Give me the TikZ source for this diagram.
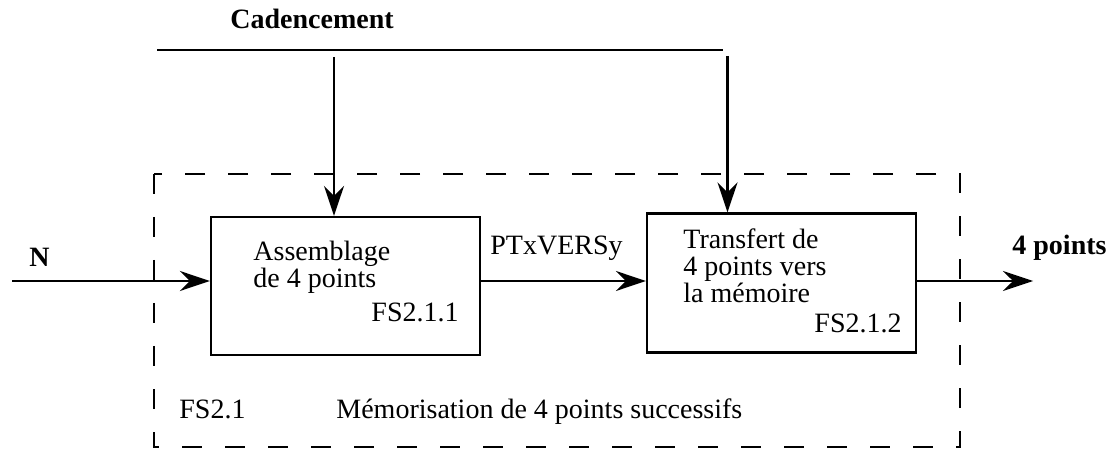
\documentclass[tikz,border=0pt]{standalone}
\usepackage{fontspec}
\setmainfont{Liberation Serif}
\usetikzlibrary{arrows.meta}
\begin{document}
\begin{tikzpicture}[x=0.5pt,y=-0.5pt,
  every node/.style={font=\fontsize{14}{16}\selectfont, inner sep=0pt},
  lbl/.style={anchor=base west},
  blbl/.style={anchor=base west, font=\fontsize{14}{16}\selectfont\bfseries},
  fbox/.style={draw, line width=1.1pt, rectangle},
  arr/.style={line width=1.2pt, -{Stealth[length=15pt,width=10pt,inset=5pt]}},
  wire/.style={line width=1.2pt},
  frame/.style={line width=1.3pt, dash pattern=on 10pt off 11.5pt}]
\useasboundingbox (0,0) rectangle (1111,453);
% dashed frame
\draw[frame] (154,174) rectangle (960,447);
% boxes
\node[fbox, minimum width=134.5pt, minimum height=69pt] (b1) at (345.5,286) {};
\node[fbox, minimum width=134.5pt, minimum height=69.5pt] (b2) at (781.5,283) {};
% box texts
\node[lbl] (t1a) at (253,261) {Assemblage};
\node[lbl] (t1b) at (253,288) {de 4 points};
\node[anchor=base east] (t1c) at (459,322) {FS2.1.1};
\node[lbl] (t2a) at (683,249) {Transfert de};
\node[lbl] (t2b) at (683,276) {4 points vers};
\node[lbl] (t2c) at (683,303) {la mémoire};
\node[anchor=base east] (t2d) at (902,333) {FS2.1.2};
% clock
\node[blbl] (cad) at (230,29) {Cadencement};
\coordinate (cl) at (157,50);
\coordinate (cr) at (723,50);
\draw[wire] (cl) -- (cr);
\coordinate (c1) at (334,57);
\coordinate (c2) at (727.5,56);
\draw[arr] (c1) -- (c1 |- b1.north);
\draw[arr] (c2) -- (c2 |- b2.north);
% data flow
\coordinate (in) at (12,281);
\coordinate (out) at (1033,281);
\node[blbl] (n) at (29,267) {N};
\node[lbl] (ptx) at (490,255) {PTxVERSy};
\node[blbl] (o) at (1012,255) {4 points};
\draw[arr] (in) -- (in -| b1.west);
\draw[arr] (in -| b1.east) -- (in -| b2.west);
\draw[arr] (in -| b2.east) -- (out);
% frame labels
\node[lbl] (fs) at (179,418) {FS2.1};
\node[lbl] (mem) at (336,418) {Mémorisation de 4 points successifs};
\end{tikzpicture}
\end{document}
